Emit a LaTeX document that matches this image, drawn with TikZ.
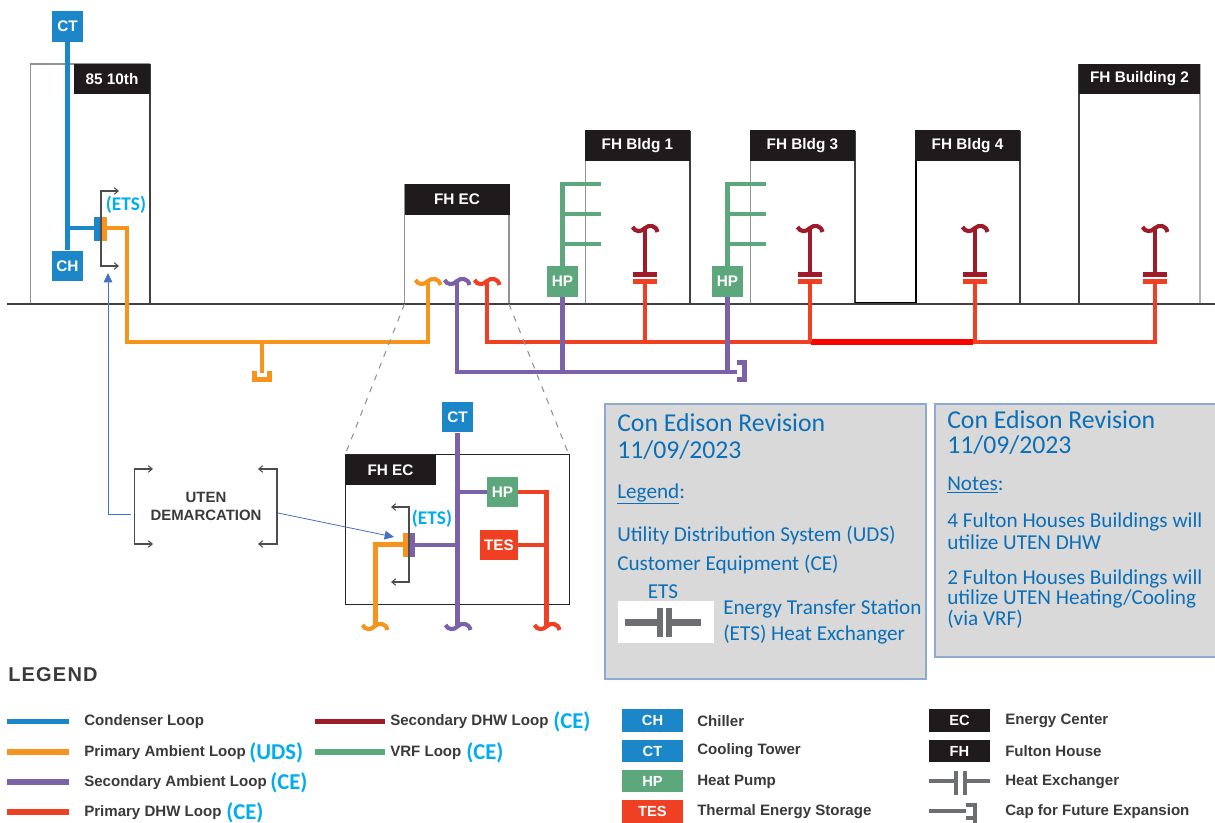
\documentclass[tikz,border=0pt]{standalone}
\usepackage{fontspec}
\usetikzlibrary{arrows.meta}
\setmainfont{Liberation Sans}
\newfontfamily\calibri{Carlito}
\definecolor{condblue}{HTML}{1B87C9}
\definecolor{ambientor}{HTML}{F7941D}
\definecolor{ambientpu}{HTML}{7B62A8}
\definecolor{dhwred}{HTML}{EF4023}
\definecolor{dhwdark}{HTML}{9E1B2A}
\definecolor{vrfgreen}{HTML}{5CA77C}
\definecolor{headblack}{HTML}{1F1A1B}
\definecolor{etscyan}{HTML}{00ADEF}
\definecolor{panelgray}{HTML}{D9D9D9}
\definecolor{paneledge}{HTML}{8FAAD0}
\definecolor{paneltext}{HTML}{0B6FB8}
\definecolor{arrowblue}{HTML}{4472C4}
\definecolor{legtext}{HTML}{3A3A3A}
\definecolor{hxgray}{HTML}{6D6E71}
\tikzset{
	unitbox/.style={inner sep=0pt, minimum width=23.25pt, minimum height=23pt, text=white, font=\fontsize{11.5}{13}\selectfont\bfseries},
	ctbox/.style={unitbox, fill=condblue},
	hpbox/.style={unitbox, fill=vrfgreen},
	tesbox/.style={unitbox, fill=dhwred, minimum width=28.5pt},
	headbox/.style={inner sep=0pt, minimum height=23pt, fill=headblack, text=white, font=\fontsize{11.5}{13}\selectfont\bfseries},
	keybox/.style={inner sep=0pt, minimum width=45.75pt, minimum height=17pt, text=white, font=\fontsize{11}{13}\selectfont\bfseries},
	condloop/.style={draw=condblue, line width=3.8pt},
	amboloop/.style={draw=ambientor, line width=3.7pt},
	ambploop/.style={draw=ambientpu, line width=3.4pt},
	dhwloop/.style={draw=dhwred, line width=3.3pt},
	dhwdloop/.style={draw=dhwdark, line width=3.5pt},
	vrfloop/.style={draw=vrfgreen, line width=3.5pt},
	keyline/.style={line width=4pt},
	wallg/.style={draw=gray!85, line width=1.1pt},
	walld/.style={draw=black!75, line width=1pt},
	demarc/.style={draw=black!70, line width=0.8pt, {Straight Barb[length=3pt,width=5pt]}-{Straight Barb[length=3pt,width=5pt]}},
	uplink/.style={draw=arrowblue, line width=0.6pt, -{Triangle[length=7pt,width=6.5pt]}},
	zoomedge/.style={draw=gray!85, line width=0.8pt, dash pattern=on 4.5pt off 5pt},
	etslabel/.style={inner sep=0pt, text=etscyan, font=\calibri\fontsize{14.5}{16}\selectfont\bfseries},
	cetag/.style={inner sep=0pt, anchor=west, text=etscyan, font=\calibri\fontsize{17}{18}\selectfont\bfseries},
	legitem/.style={inner sep=0pt, anchor=west, text=legtext, font=\fontsize{11.3}{13}\selectfont\bfseries},
	paneltitle/.style={inner sep=0pt, anchor=west, text=paneltext, font=\calibri\fontsize{19.3}{22}\selectfont},
	paneltxt/.style={inner sep=0pt, anchor=west, text=paneltext, font=\calibri\fontsize{15.9}{18}\selectfont},
	panelbox/.style={fill=panelgray, draw=paneledge, line width=0.8pt},
	tilde/.pic={\draw[pic actions, line width=3.1pt] (-12.5,-2) .. controls (-10,3) and (-4,3.5) .. (0,-1) .. controls (4,-4.5) and (11,-4) .. (12.5,3);}
}
\begin{document}
\begin{tikzpicture}[x=0.75pt,y=-0.75pt]
	\useasboundingbox (0,0) rectangle (1215,823);
	\fill[white] (0,0) rectangle (1215,823);

	\draw[wallg] (150,64) -- (30.5,64) -- (30.5,304);
	\draw[walld] (150,64) -- (150,304);
	\draw[wallg] (404.5,184) -- (404.5,304);
	\draw[wallg] (509,184) -- (509,304);
	\draw[wallg] (585.5,131) -- (585.5,304);
	\draw[walld] (690,131) -- (690,304);
	\draw[wallg] (750.5,131) -- (750.5,304);
	\draw[walld] (855,131) -- (855,304);
	\draw[draw=black, line width=1.6pt] (855,303) -- (916,303) -- (916,161);
	\draw[walld] (1020,131) -- (1020,304);
	\draw[walld] (1079,64) -- (1079,304);
	\draw[draw=gray!60, line width=1pt] (1200,64) -- (1200,304);
	\draw[walld, line width=1.1pt] (7,304) -- (1215,304);

	\node[headbox, minimum width=57pt] (hd85) at (112,79) {85 10th};
	\node[headbox, minimum width=78.75pt] (hdec) at (457,199.5) {FH EC};
	\node[headbox, minimum width=78.75pt] (hdb1) at (637.5,145.5) {FH Bldg 1};
	\node[headbox, minimum width=78.75pt] (hdb3) at (802.5,145.5) {FH Bldg 3};
	\node[headbox, minimum width=78.75pt] (hdb4) at (967.5,145.5) {FH Bldg 4};
	\node[headbox, minimum width=90.75pt] (hdb2) at (1139.5,79) {FH Building 2};

	\node[ctbox] (ct85) at (67.5,26.5) {CT};
	\node[ctbox] (ch85) at (67.5,266) {CH};
	\node[hpbox] (hpb1) at (562.5,281.5) {HP};
	\node[hpbox] (hpb3) at (727.5,281.5) {HP};

	\coordinate (condtee) at (67.5,228);
	\coordinate (ets85a) at (94,228);
	\coordinate (ets85b) at (107,228);
	\coordinate (ambjoin) at (262,342);
	\draw[condloop] (ct85) -- (ch85);
	\draw[condloop, line width=3.5pt] (condtee) -- (ets85a);
	\fill[condblue] (94,217) rectangle (102,241);
	\fill[ambientor] (102,217) rectangle (107,241);
	\draw[amboloop] (ets85b) -- (127,228) -- (127,342) -- (428,342) -- (428,282);
	\draw[amboloop] (ambjoin) -- (262,373);
	\draw[amboloop] (254.5,371) -- (254.5,379.5) -- (269.5,379.5) -- (269.5,371);
	\pic[draw=ambientor] at (428,282) {tilde};

	\draw[demarc] (119,191) -- (101,191) -- (101,266) -- (119,266);
	\node[etslabel] (etsa) at (126,205) {(ETS)};

	\draw[dhwloop] (487,282) -- (487,342) -- (811,342);
	\draw[dhwloop] (973,342) -- (1155,342) -- (1155,284);
	\draw[draw=red, line width=4.1pt] (811,342) -- (973,342);
	\draw[dhwloop] (645,342) -- (645,284);
	\draw[dhwloop] (810,342) -- (810,284);
	\draw[dhwloop] (975,342) -- (975,284);
	\pic[draw=dhwred] at (487,282) {tilde};

	\coordinate (ambcap) at (737,372);
	\draw[ambploop] (457,282) -- (457,372) -- (ambcap);
	\draw[ambploop] (hpb1) -- (562.5,372);
	\draw[ambploop] (hpb3) -- (727.5,372);
	\draw[ambploop, line width=3.75pt] (737,362.5) -- (744.5,362.5) -- (744.5,379.5) -- (737,379.5);
	\pic[draw=ambientpu] at (457,282) {tilde};

	\draw[vrfloop] (601,184) -- (562.5,184) -- (hpb1);
	\draw[vrfloop] (562.5,214) -- (601,214);
	\draw[vrfloop] (562.5,244) -- (601,244);
	\draw[vrfloop] (766,184) -- (727.5,184) -- (hpb3);
	\draw[vrfloop] (727.5,214) -- (766,214);
	\draw[vrfloop] (727.5,244) -- (766,244);

	\fill[dhwred] (633,279) rectangle (657,284);
	\fill[dhwdark] (633,272) rectangle (657,277);
	\draw[dhwdloop] (645,272) -- (645,229);
	\pic[draw=dhwdark] at (645,229) {tilde};
	\fill[dhwred] (798,279) rectangle (822,284);
	\fill[dhwdark] (798,272) rectangle (822,277);
	\draw[dhwdloop] (810,272) -- (810,229);
	\pic[draw=dhwdark] at (810,229) {tilde};
	\fill[dhwred] (963,279) rectangle (987,284);
	\fill[dhwdark] (963,272) rectangle (987,277);
	\draw[dhwdloop] (975,272) -- (975,229);
	\pic[draw=dhwdark] at (975,229) {tilde};
	\fill[dhwred] (1143,279) rectangle (1167,284);
	\fill[dhwdark] (1143,272) rectangle (1167,277);
	\draw[dhwdloop] (1155,272) -- (1155,229);
	\pic[draw=dhwdark] at (1155,229) {tilde};

	\draw[zoomedge] (404.5,304) -- (345,455);
	\draw[zoomedge] (509,304) -- (569,455);

	\draw[draw=black!85, line width=1.1pt] (345.5,454.5) rectangle (569.5,604.5);
	\node[headbox, minimum width=68pt] (hdin) at (390.5,470) {FH EC};
	\node[ctbox] (ctin) at (457.5,417) {CT};
	\node[hpbox] (hpin) at (502.5,492) {HP};
	\node[tesbox, fill=dhwred] (tesin) at (499,545) {TES};

	\coordinate (inpu) at (457.5,625);
	\coordinate (inor) at (375.5,625);
	\coordinate (inre) at (546.5,625);
	\coordinate (etsinb) at (415,545);
	\draw[amboloop] (403,544.5) -- (375.5,544.5) -- (inor);
	\draw[dhwloop] (hpin) -- (546.5,492) -- (inre);
	\draw[dhwloop] (tesin) -- (546.5,545);
	\draw[ambploop] (ctin) -- (inpu);
	\draw[ambploop] (457.5,492) -- (hpin);
	\draw[ambploop] (etsinb) -- (457.5,545);
	\fill[ambientor] (403,533) rectangle (408,557);
	\fill[ambientpu] (408,533) rectangle (415,557);
	\pic[draw=ambientor] at (375,627) {tilde};
	\pic[draw=ambientpu] at (458,627) {tilde};
	\pic[draw=dhwred] at (547,627) {tilde};
	\draw[demarc] (391,507) -- (409,507) -- (409,582) -- (391,582);
	\node[etslabel] (etsb) at (432,519) {(ETS)};

	\node[inner sep=0pt, align=center, text=legtext, font=\fontsize{11.2}{13.5}\selectfont\bfseries] (demtxt) at (206,506) {UTEN\\DEMARCATION};
	\draw[demarc] (153,469) -- (134.5,469) -- (134.5,544) -- (153,544);
	\draw[demarc] (258,469) -- (277,469) -- (277,544) -- (258,544);
	\coordinate (linka) at (131,514);
	\coordinate (linkb) at (108,514);
	\coordinate (linkc) at (108,273);
	\coordinate (linkd) at (278,513);
	\coordinate (linke) at (394,537);
	\draw[uplink] (linka) -- (linkb) -- (linkc);
	\draw[uplink] (linkd) -- (linke);

	\draw[panelbox] (605,404) rectangle (926,679);
	\draw[panelbox] (935,404) rectangle (1217,657);
	\node[paneltitle] (titlea) at (617,423) {Con Edison Revision};
	\node[paneltitle] (datea) at (617,450) {11/09/2023};
	\node[paneltxt] (lega) at (617,494) {\underline{Legend}:};
	\node[paneltxt] (udsa) at (617,535) {Utility Distribution System (UDS)};
	\node[paneltxt] (cea) at (617,564) {Customer Equipment (CE)};
	\node[paneltxt, anchor=center] (etsc) at (663,592) {ETS};
	\fill[white] (618,601) rectangle (714,643);
	\fill[hxgray] (625,619) rectangle (701,626);
	\fill[white] (663,605) rectangle (666,640);
	\fill[hxgray] (657,608) rectangle (663,637);
	\fill[hxgray] (666,608) rectangle (672,637);
	\node[paneltxt] (etsd) at (723,608.5) {Energy Transfer Station};
	\node[paneltxt] (etse) at (723,634.5) {(ETS) Heat Exchanger};

	\node[paneltitle] (titleb) at (947,419.5) {Con Edison Revision};
	\node[paneltitle] (dateb) at (947,445) {11/09/2023};
	\node[paneltxt] (noteb) at (947,485) {\underline{Notes}:};
	\node[paneltxt] (nota) at (947,521.5) {4 Fulton Houses Buildings will};
	\node[paneltxt] (notc) at (947,542) {utilize UTEN DHW};
	\node[paneltxt] (notd) at (947,578.5) {2 Fulton Houses Buildings will};
	\node[paneltxt] (note) at (947,598.5) {utilize UTEN Heating/Cooling};
	\node[paneltxt] (notf) at (947,619) {(via VRF)};

	\node[inner sep=0pt, anchor=west, text=legtext, font=\fontsize{15}{17}\selectfont\bfseries\addfontfeature{LetterSpace=6}] (legtitle) at (8,675) {LEGEND};
	\draw[condloop, keyline] (7,721.5) -- (69,721.5);
	\draw[amboloop, keyline] (7,752) -- (69,752);
	\draw[ambploop, keyline] (7,782) -- (69,782);
	\draw[dhwloop, keyline] (7,812) -- (69,812);
	\draw[dhwdloop, keyline] (315,721.5) -- (385,721.5);
	\draw[vrfloop, keyline] (315,752) -- (385,752);
	\node[legitem] (lega1) at (84,722) {Condenser Loop};
	\node[legitem] (lega2) at (84,752.5) {Primary Ambient Loop};
	\node[legitem] (lega3) at (84,782.5) {Secondary Ambient Loop};
	\node[legitem] (lega4) at (84,812.5) {Primary DHW Loop};
	\node[legitem] (lega5) at (390,722) {Secondary DHW Loop};
	\node[legitem] (lega6) at (390,752.5) {VRF Loop};
	\node[cetag] (tag2) at (249,753) {(UDS)};
	\node[cetag] (tag3) at (270,783) {(CE)};
	\node[cetag] (tag4) at (226,813) {(CE)};
	\node[cetag] (tag5) at (553,722) {(CE)};
	\node[cetag] (tag6) at (466,753) {(CE)};

	\node[keybox, fill=condblue] (keych) at (652.5,720.5) {CH};
	\node[keybox, fill=condblue] (keyct) at (652.5,751) {CT};
	\node[keybox, fill=vrfgreen] (keyhp) at (652.5,781) {HP};
	\node[keybox, fill=dhwred] (keytes) at (652.5,811.5) {TES};
	\node[keybox, fill=headblack] (keyec) at (959.5,720.5) {EC};
	\node[keybox, fill=headblack] (keyfh) at (959.5,751) {FH};
	\node[legitem] (txtch) at (697,721) {Chiller};
	\node[legitem] (txtct) at (697,751) {Cooling Tower};
	\node[legitem] (txthp) at (697,781.5) {Heat Pump};
	\node[legitem] (txttes) at (697,812) {Thermal Energy Storage};
	\node[legitem] (txtec) at (1005,721) {Energy Center};
	\node[legitem] (txtfh) at (1005,751) {Fulton House};
	\node[legitem] (txthx) at (1005,781.5) {Heat Exchanger};
	\node[legitem] (txtcap) at (1005,812) {Cap for Future Expansion};
	\fill[hxgray] (929,779) rectangle (990,783);
	\fill[white] (958,770) rectangle (963,796);
	\fill[hxgray] (954,771) rectangle (958,795);
	\fill[hxgray] (963,771) rectangle (967,795);
	\fill[hxgray] (929,809) rectangle (966,813);
	\draw[draw=hxgray, line width=3pt] (966,804.5) -- (975,804.5) -- (975,823);
	\draw[draw=hxgray, line width=3pt] (966,818) -- (975,818);
\end{tikzpicture}
\end{document}
